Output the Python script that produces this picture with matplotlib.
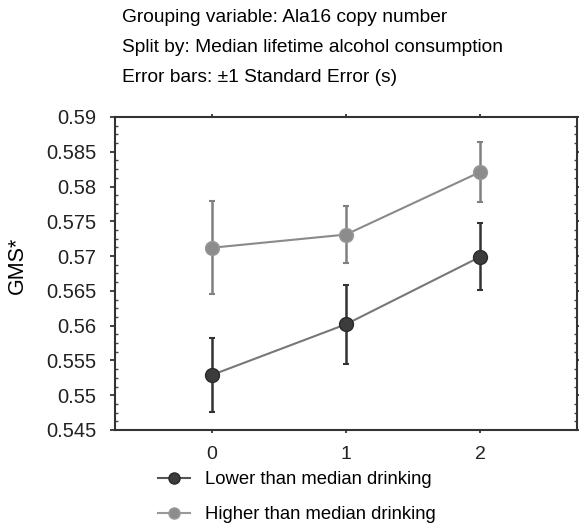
import matplotlib.pyplot as plt
import numpy as np
from matplotlib.ticker import MultipleLocator
from matplotlib.lines import Line2D

copies = [0, 1, 2]
lower_mean = [0.5529, 0.5602, 0.5699]
lower_se = [0.0053, 0.0057, 0.0048]
higher_mean = [0.5712, 0.5731, 0.5821]
higher_se = [0.0067, 0.0041, 0.0043]
yticks = [0.545, 0.55, 0.555, 0.56, 0.565, 0.57, 0.575, 0.58, 0.585, 0.59]

plt.rcParams['font.family'] = ['Liberation Sans', 'DejaVu Sans']

fig = plt.figure(figsize=(5.79, 5.23), dpi=100)
# axes box: x 115..577 px, y 117..430 px
ax = fig.add_axes([115 / 579, 1 - 430 / 523, 462 / 579, 313 / 523])

dark = '#3c3c3c'
light = '#8c8c8c'

ax.errorbar(copies, higher_mean, yerr=higher_se, color='#8a8a8a', ecolor='#808080',
            elinewidth=1.8, capsize=2, capthick=1.5, lw=1.5,
            marker='o', ms=10, mfc=light, mec='#9a9a9a', zorder=3)
ax.errorbar(copies, lower_mean, yerr=lower_se, color='#777777', ecolor='#333333',
            elinewidth=1.8, capsize=2, capthick=1.5, lw=1.5,
            marker='o', ms=10, mfc=dark, mec='#2a2a2a', zorder=3)

ax.set_xlim(-0.72, 2.72)
ax.set_ylim(0.545, 0.59)
ax.set_xticks(copies)
ax.set_xticklabels([str(c) for c in copies], fontsize=14)
ax.set_yticks(yticks)
ax.set_yticklabels([f'{v:g}' for v in yticks], fontsize=14.5)
ax.yaxis.set_minor_locator(MultipleLocator(0.00125))
ax.tick_params(axis='y', which='major', direction='out', length=3.5, width=1.2,
               right=True, pad=10, colors='#222222')
ax.tick_params(axis='y', which='minor', direction='in', length=2.5, width=1,
               right=True, colors='#444444')
ax.tick_params(axis='x', direction='out', length=2.5, width=1.2, top=True, pad=9,
               colors='#222222')
for s in ['left', 'bottom', 'top', 'right']:
    ax.spines[s].set_linewidth(1.5)
    ax.spines[s].set_color('#333333')
ax.set_ylabel('GMS*', fontsize=15.5)
ax.yaxis.set_label_coords(-0.188, 0.527)

fig.text(122 / 579, 1 - 18 / 523, 'Grouping variable: Ala16 copy number', fontsize=13.8, va='center')
fig.text(122 / 579, 1 - 48 / 523, 'Split by: Median lifetime alcohol consumption', fontsize=13.8, va='center')
fig.text(122 / 579, 1 - 78 / 523, 'Error bars: \u00b11 Standard Error (s)', fontsize=13.8, va='center')

handles = [
    Line2D([], [], color='#555555', lw=1.5, marker='o', ms=8, mfc=dark, mec='#2a2a2a'),
    Line2D([], [], color='#999999', lw=1.5, marker='o', ms=8, mfc=light, mec='#9a9a9a'),
]
fig.legend(handles, ['Lower than median drinking', 'Higher than median drinking'],
           loc='upper left', bbox_to_anchor=(158 / 579, 1 - 471 / 523), frameon=False,
           fontsize=13.3, handlelength=1.75, handletextpad=0.8, labelspacing=0.98,
           borderpad=0, borderaxespad=0)

fig.savefig('out.png', dpi=100)
